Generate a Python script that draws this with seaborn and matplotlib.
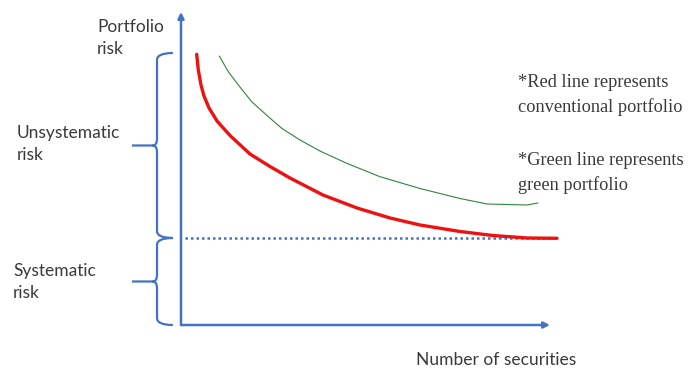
import matplotlib.pyplot as plt
import numpy as np
import pandas as pd
import seaborn as sns
import matplotlib
from matplotlib.path import Path
from matplotlib.patches import PathPatch

sns.set_style('white')
matplotlib.rcParams['font.family'] = ['Lato', 'DejaVu Sans']

# curves (x = number of securities, y = portfolio risk, 0-100 scale)
red_x = [4.25, 4.69, 5.42, 6.23, 7.59, 9.76, 13.28, 18.70, 24.12, 29.54, 38.48, 47.70,
         56.64, 64.77, 75.61, 84.55, 93.77, 101.9]
red_y = [86.49, 81.47, 76.68, 73.16, 69.33, 65.18, 60.54, 54.63, 50.64, 46.96, 41.53, 37.38,
         34.19, 31.95, 29.87, 28.59, 27.80, 27.70]
green_x = [10.38, 12.82, 15.53, 19.16, 23.66, 27.37, 32.25, 37.67, 44.91, 53.93, 64.77, 75.61,
           82.93, 93.77, 96.75]
green_y = [85.94, 80.93, 76.68, 71.34, 66.55, 62.78, 59.11, 55.59, 51.66, 47.38, 43.61, 40.42,
           38.66, 38.34, 38.98]
systematic_x = [1.1, 101.4]
systematic_y = [27.8, 27.8]
unsys_top = 86.9

blue = '#4472C4'
text_col = '#3a3a3a'

red_df = pd.DataFrame({'n': red_x, 'risk': red_y})
green_df = pd.DataFrame({'n': green_x, 'risk': green_y})

fig = plt.figure(figsize=(6.89, 3.70), dpi=100)
ax = fig.add_axes([181/689, 45/370, 369/689, 313/370])
ax.set_xlim(0, 100)
ax.set_ylim(0, 100)
ax.axis('off')

sns.lineplot(x=systematic_x, y=systematic_y, color=blue, lw=1.8, ls=(0, (1, 1.2)), ax=ax)
sns.lineplot(data=red_df, x='n', y='risk', sort=False, color='#EE1111', lw=2.4, ax=ax)
sns.lineplot(data=green_df, x='n', y='risk', sort=False, color='#2E8540', lw=0.8, ax=ax)
for l in ax.lines:
    l.set_clip_on(False)
    l.set_solid_joinstyle('round')

# axes arrows
arrow = dict(arrowstyle='-|>', color=blue, lw=1.8, mutation_scale=9, shrinkA=0, shrinkB=0)
ax.annotate('', xy=(0, 100), xytext=(0, 0), arrowprops=arrow, annotation_clip=False)
ax.annotate('', xy=(100, 0), xytext=(0, 0), arrowprops=arrow, annotation_clip=False)


def brace(lo, hi, xr=-2.2, xs=-6.5, xt=-13.3, r=2.2):
    ym = (lo + hi) / 2
    verts = [(xr, hi), (xs, hi), (xs, hi - r), (xs, ym + r), (xs, ym), (xs - 1.2, ym),
             (xt, ym), (xs - 1.2, ym), (xs, ym), (xs, ym - r), (xs, lo + r), (xs, lo), (xr, lo)]
    codes = [Path.MOVETO, Path.CURVE3, Path.CURVE3, Path.LINETO, Path.CURVE3, Path.CURVE3,
             Path.LINETO, Path.MOVETO, Path.CURVE3, Path.CURVE3, Path.LINETO, Path.CURVE3, Path.CURVE3]
    p = PathPatch(Path(verts, codes), fill=False, ec=blue, lw=1.6, clip_on=False)
    ax.add_patch(p)


brace(systematic_y[0], unsys_top)
brace(0, systematic_y[0])

fs = 12.5
fig.text(97/689, 1 - 38/370, 'Portfolio\nrisk', fontsize=fs, color=text_col, va='center', linespacing=1.45)
fig.text(17/689, 1 - 144/370, 'Unsystematic\nrisk', fontsize=fs, color=text_col, va='center', linespacing=1.45)
fig.text(13/689, 1 - 282/370, 'Systematic\nrisk', fontsize=fs, color=text_col, va='center', linespacing=1.45)
fig.text(416/689, 1 - 360/370, 'Number of securities', fontsize=fs, color=text_col, va='center')

serif = ['Liberation Serif', 'DejaVu Serif']
fig.text(518/689, 1 - 95/370, '*Red line represents\nconventional portfolio', fontsize=13.2,
         family=serif, color=text_col, va='center', linespacing=1.5)
fig.text(518/689, 1 - 173/370, '*Green line represents\ngreen portfolio', fontsize=13.2,
         family=serif, color=text_col, va='center', linespacing=1.5)

fig.savefig('out.png', dpi=100)
